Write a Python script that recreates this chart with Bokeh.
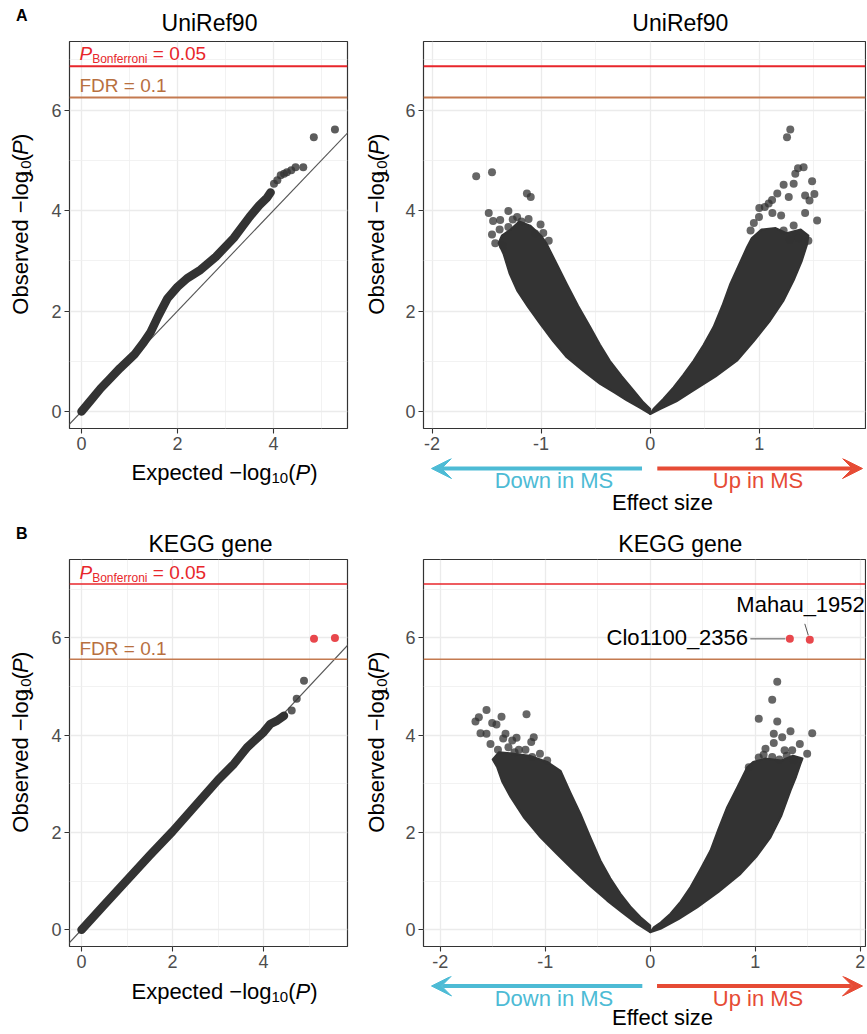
import math
from bokeh.plotting import figure
from bokeh.models import Range1d, FixedTicker, Span, Slope, Label, Arrow, VeeHead
from bokeh.layouts import column, row
from bokeh.embed import file_html
from bokeh.resources import INLINE

# ------------------------------------------------------------------ data
panel_letters = ["A", "B"]
dataset_titles = ["UniRef90", "KEGG gene"]
direction_labels = ["Down in MS", "Up in MS"]

bonferroni_a = 6.87
fdr_a = 6.25
bonferroni_b = 7.11
fdr_b = 5.56

# QQ plot A (UniRef90): dense band + sparse tail
qq_a_exp = [0.00, 0.20, 0.40, 0.60, 0.80, 1.10, 1.30, 1.44, 1.60, 1.79, 2.00, 2.20, 2.48, 2.80, 3.17, 3.50, 3.70, 3.87, 3.94]
qq_a_obs = [0.00, 0.23, 0.46, 0.66, 0.86, 1.13, 1.38, 1.58, 1.90, 2.25, 2.48, 2.65, 2.82, 3.08, 3.45, 3.87, 4.10, 4.26, 4.36]
qq_a_tail_exp = [4.01, 4.08, 4.15, 4.22, 4.28, 4.37, 4.46, 4.62, 4.84, 5.28]
qq_a_tail_obs = [4.53, 4.60, 4.70, 4.73, 4.76, 4.80, 4.86, 4.86, 5.46, 5.61]

# QQ plot B (KEGG gene)
qq_b_exp = [0.00, 0.50, 1.00, 1.50, 2.00, 2.50, 3.00, 3.35, 3.64, 4.00, 4.15, 4.30, 4.45]
qq_b_obs = [0.00, 0.51, 1.02, 1.53, 2.02, 2.55, 3.08, 3.41, 3.75, 4.06, 4.23, 4.30, 4.40]
qq_b_tail_exp = [4.62, 4.73, 4.89]
qq_b_tail_obs = [4.51, 4.75, 5.12]
qq_b_sig_exp = [5.11, 5.57]
qq_b_sig_obs = [5.98, 6.00]

# Volcano A: outlines of the dense point clouds (effect size, -log10 P)
va_left_x = [0.00, -0.10, -0.214, -0.33, -0.459, -0.61, -0.765, -0.89, -1.01, -1.12, -1.22, -1.29, -1.345, -1.39,
             -1.36, -1.28, -1.20, -1.10, -1.00, -0.95, -0.86, -0.765, -0.66, -0.55, -0.46, -0.37, -0.26, -0.153, -0.07, 0.00]
va_left_y = [-0.05, 0.08, 0.22, 0.38, 0.55, 0.80, 1.08, 1.40, 1.75, 2.08, 2.41, 2.75, 3.14, 3.35,
             3.50, 3.62, 3.78, 3.70, 3.50, 3.34, 2.95, 2.54, 2.10, 1.68, 1.33, 1.01, 0.70, 0.42, 0.20, 0.05]
va_right_x = [0.00, 0.09, 0.24, 0.397, 0.60, 0.795, 0.95, 1.10, 1.22, 1.315, 1.39, 1.44, 1.45, 1.38, 1.25, 1.15,
              1.02, 0.93, 0.887, 0.81, 0.734, 0.66, 0.58, 0.49, 0.397, 0.30, 0.214, 0.12, 0.03]
va_right_y = [-0.05, 0.05, 0.20, 0.42, 0.70, 1.01, 1.40, 1.81, 2.20, 2.61, 3.00, 3.34, 3.50, 3.62, 3.55, 3.65,
              3.62, 3.45, 3.27, 2.90, 2.54, 2.10, 1.68, 1.33, 1.01, 0.72, 0.48, 0.25, 0.05]
# Volcano A: individually visible points
va_pts_x = [-1.595, -1.45, -1.13, -1.095, -1.48, -1.30, -1.44, -1.375, -1.45, -1.005, -1.115, -1.055, -1.22, -1.30,
            -1.26, -1.18, -0.98, -1.38, -1.42, -0.93, -1.35,
            1.254, 1.284, 1.33, 1.355, 1.406, 1.223, 1.315, 1.484, 1.505, 1.42, 1.46, 1.165, 1.27, 1.117, 1.086,
            1.42, 1.53, 1.20, 1.05, 1.315, 1.337, 1.223, 0.997, 0.95, 0.92, 1.00, 1.12, 1.36, 1.45, 1.28]
va_pts_y = [4.68, 4.76, 4.34, 4.27, 3.95, 3.99, 3.79, 3.81, 3.52, 3.72, 3.83, 3.54, 3.87, 3.67,
            3.82, 3.78, 3.55, 3.62, 3.35, 3.40, 3.30,
            5.46, 5.61, 4.73, 4.84, 4.86, 4.51, 4.53, 4.58, 4.33, 4.30, 4.20, 4.34, 4.27, 4.21, 4.14,
            3.95, 3.80, 3.90, 4.07, 3.70, 3.50, 3.60, 3.87, 3.75, 3.60, 4.05, 3.95, 3.45, 3.40, 3.42]

# Volcano B
vb_left_x = [0.00, -0.124, -0.27, -0.41, -0.57, -0.728, -0.89, -1.045, -1.20, -1.33, -1.41, -1.457, -1.50, -1.44,
             -1.30, -1.15, -0.98, -0.854, -0.76, -0.664, -0.57, -0.473, -0.38, -0.283, -0.19, -0.092, 0.00]
vb_left_y = [-0.05, 0.12, 0.36, 0.60, 0.90, 1.22, 1.56, 1.90, 2.30, 2.73, 3.05, 3.34, 3.50, 3.65,
             3.62, 3.58, 3.45, 3.27, 2.82, 2.38, 1.90, 1.42, 1.06, 0.74, 0.48, 0.26, 0.09]
vb_right_x = [0.00, 0.098, 0.27, 0.447, 0.65, 0.86, 1.01, 1.146, 1.25, 1.336, 1.39, 1.431, 1.45, 1.36, 1.25, 1.10,
              0.98, 0.924, 0.83, 0.733, 0.65, 0.574, 0.48, 0.384, 0.29, 0.193, 0.10, 0.034]
vb_right_y = [-0.05, 0.02, 0.22, 0.46, 0.78, 1.15, 1.50, 1.90, 2.35, 2.86, 3.15, 3.41, 3.52, 3.58, 3.48, 3.52,
              3.45, 3.34, 2.93, 2.52, 2.07, 1.63, 1.25, 0.88, 0.58, 0.33, 0.15, 0.05]
vb_pts_x = [-1.664, -1.632, -1.559, -1.505, -1.416, -1.464, -1.178, -1.616, -1.559, -1.378, -1.273, -1.109, -1.314,
            -1.40, -1.133, -1.521, -1.188, -1.251, -1.292, -0.981, -1.124, -1.45, -1.05, -1.35,
            1.21, 1.162, 1.034, 1.21, 1.336, 1.543, 1.177, 1.257, 1.425, 1.177, 1.098, 1.352, 1.495, 1.162,
            1.034, 1.28, 1.368, 0.939, 1.08, 1.30, 1.23]
vb_pts_y = [4.28, 4.37, 4.52, 4.25, 4.38, 4.22, 4.43, 4.04, 4.03, 4.03, 3.95, 3.96, 3.89,
            3.93, 3.86, 3.82, 3.70, 3.70, 3.65, 3.48, 3.55, 3.70, 3.62, 3.75,
            5.10, 4.73, 4.34, 4.28, 4.08, 4.04, 4.03, 3.96, 3.82, 3.84, 3.72, 3.69, 3.62, 3.55,
            3.54, 3.69, 3.48, 3.34, 3.60, 3.58, 3.50]
gene_names = ["Clo1100_2356", "Mahau_1952"]
gene_effect = [1.33, 1.52]
gene_logp = [5.98, 5.96]

# ------------------------------------------------------------------ style
FONT = "Liberation Sans"
DARK = "#333333"
BONF_COL = "#E8262B"
FDR_COL = "#C47A50"
FDR_TXT = "#B8703F"
SIG_COL = "#E8474C"
CYAN = "#4DBBD5"
RED = "#E64B35"
K_MID = 0.35   # distance (in em) from the baseline up to the middle of the text box

EM = {' ': 0.278, '(': 0.333, ')': 0.333, '-': 0.333, '\u2212': 0.584, '=': 0.584, '.': 0.278, '_': 0.556,
      'A': 0.667, 'B': 0.667, 'C': 0.722, 'D': 0.722, 'E': 0.667, 'F': 0.611, 'G': 0.778, 'K': 0.667,
      'M': 0.833, 'O': 0.778, 'P': 0.667, 'R': 0.722, 'S': 0.667, 'U': 0.722,
      'a': 0.556, 'b': 0.556, 'c': 0.5, 'd': 0.556, 'e': 0.556, 'f': 0.278, 'g': 0.556, 'h': 0.556,
      'i': 0.222, 'l': 0.222, 'n': 0.556, 'o': 0.556, 'p': 0.556, 'r': 0.333, 's': 0.5, 't': 0.278,
      'u': 0.556, 'v': 0.5, 'w': 0.722, 'x': 0.5, 'z': 0.5}


def text_width(s, size):
    return sum(EM.get(ch, 0.556) for ch in s) * size


def base_fig(w, h, x_range, y_range, bl, br, bt, bb, axes=True):
    kw = dict(width=w, height=h, x_range=x_range, y_range=y_range, title=None,
              output_backend="svg", toolbar_location=None, tools="",
              min_border=0, min_border_left=bl, min_border_right=br,
              min_border_top=bt, min_border_bottom=bb)
    if not axes:
        kw.update(x_axis_type=None, y_axis_type=None)
    p = figure(**kw)
    p.background_fill_color = "white"
    p.border_fill_color = "white"
    return p


class Panel:
    """Data panel; (ox, oy) is the page position of the figure."""
    def __init__(self, ox, oy, w, h, bl, br, bt, bb, x0px, xunit, y0px, yunit):
        self.x0px, self.xunit, self.y0px, self.yunit = x0px, xunit, y0px, yunit
        fl, fr, ft, fb = ox + bl, ox + w - br, oy + bt, oy + h - bb
        self.p = base_fig(w, h, Range1d(self.dx(fl), self.dx(fr)), Range1d(self.dy(fb), self.dy(ft)),
                          bl, br, bt, bb)
        self.p.outline_line_color = DARK
        self.p.outline_line_width = 1.2

    def dx(self, px):
        return (px - self.x0px) / self.xunit

    def dy(self, py):
        return (self.y0px - py) / self.yunit

    def px(self, x):
        return self.x0px + x * self.xunit

    def py(self, y):
        return self.y0px - y * self.yunit


class Aux:
    """Text strip; coordinates are page pixels (x may share a panel's range)."""
    def __init__(self, ox, oy, w, h, share=None, bl=0, br=0):
        if share is None:
            xr = Range1d(ox, ox + w)
            self.dx = lambda px: px
        else:
            xr = share.p.x_range
            self.dx = share.dx
        self.p = base_fig(w, h, xr, Range1d(oy + h, oy), bl, br, 0, 0, axes=False)
        self.p.outline_line_color = None

    def dy(self, py):
        return py


def put(fig, text, px, py, size, style="normal", color="black", align="left", angle=0.0):
    """(px, py) = point on the baseline (start / centre / end of the text for align)."""
    w = text_width(text, size)
    off = {"left": w / 2, "center": 0.0, "right": -w / 2}[align]
    if angle == 0.0:
        cx, cy = px + off, py - K_MID * size
    else:  # rotated 90 deg counter-clockwise: reading upward, text 'up' = screen left
        cx, cy = px - K_MID * size, py - off
    fig.p.add_layout(Label(x=fig.dx(cx), y=fig.dy(cy), text=text, text_font=FONT,
                           text_font_size=f"{size}px", text_font_style=style, text_color=color,
                           text_align="center", text_baseline="middle", angle=angle))


def rich(fig, pieces, px, py, angle=0.0, align="left"):
    # pieces: (text, size, style, baseline shift in px (+ = down), color)
    total = sum(text_width(t, s) for t, s, _, _, _ in pieces)
    pos = -total / 2 if align == "center" else 0.0
    for t, s, st, sh, col in pieces:
        lead = len(t) - len(t.lstrip(' '))
        pos += lead * EM[' '] * s
        t2 = t.strip(' ')
        if angle == 0.0:
            put(fig, t2, px + pos, py + sh, s, st, col, "left")
        else:
            put(fig, t2, px + sh, py - pos, s, st, col, "left", angle)
        pos += text_width(t2, s)


def log_title(word):
    return [(word + " \u2212log", 22, "normal", 0, "black"),
            ("10", 15, "normal", 3, "black"),
            ("(", 22, "normal", 0, "black"),
            ("P", 22, "italic", 0, "black"),
            (")", 22, "normal", 0, "black")]


def style_axes(panel, xt, xminor, yt, yminor, xover=None):
    p = panel.p
    xtick = FixedTicker(ticks=xt, minor_ticks=xminor)
    ytick = FixedTicker(ticks=yt, minor_ticks=yminor)
    p.xaxis.ticker = xtick
    p.yaxis.ticker = ytick
    p.xgrid.ticker = xtick
    p.ygrid.ticker = ytick
    if xover:
        p.xaxis.major_label_overrides = xover
    for ax in p.axis:
        ax.axis_line_color = None
        ax.major_tick_line_color = DARK
        ax.major_tick_line_width = 1.1
        ax.major_tick_out = 5
        ax.major_tick_in = 0
        ax.minor_tick_out = 0
        ax.minor_tick_in = 0
        ax.minor_tick_line_color = None
        ax.major_label_text_font = FONT
        ax.major_label_text_font_size = "18px"
        ax.major_label_text_color = "#4D4D4D"
        ax.major_label_standoff = 3
    for g in (p.xgrid, p.ygrid):
        g.grid_line_color = "#EBEBEB"
        g.grid_line_width = 1.3
        g.minor_grid_line_color = "#EFEFEF"
        g.minor_grid_line_width = 0.8


def thresholds(panel, bonf, fdr, lw, with_text, bonf_base, fdr_base):
    p = panel.p
    p.add_layout(Span(location=bonf, dimension="width", line_color=BONF_COL, line_width=lw))
    p.add_layout(Span(location=fdr, dimension="width", line_color=FDR_COL, line_width=lw))
    if with_text:
        rich(panel, [("P", 19, "italic", 0, BONF_COL),
                     ("Bonferroni", 12, "normal", 3, BONF_COL),
                     (" = 0.05", 19, "normal", 0, BONF_COL)], 79, bonf_base)
        put(panel, "FDR = 0.1", 79, fdr_base, 19, "normal", FDR_TXT)


def volcano_bottom(aux, arrow_py, text_py, title_py):
    p = aux.p
    ya = arrow_py
    p.add_layout(Arrow(x_start=-0.075, y_start=ya, x_end=aux.dx(431), y_end=ya,
                       line_color=CYAN, line_width=4,
                       end=VeeHead(size=20, fill_color=CYAN, line_color=CYAN, line_width=1)))
    p.add_layout(Arrow(x_start=0.065, y_start=ya, x_end=aux.dx(862), y_end=ya,
                       line_color=RED, line_width=4,
                       end=VeeHead(size=20, fill_color=RED, line_color=RED, line_width=1)))
    put(aux, direction_labels[0], 553.5, text_py, 22, "normal", CYAN, "center")
    put(aux, direction_labels[1], 757.5, text_py, 22, "normal", RED, "center")
    put(aux, "Effect size", 662, title_py, 22, "normal", "black", "center")


VOLC_X_OVR = {-2: "-2", -1: "-1", 0: "0", 1: "1", 2: "2"}

# ================================================================== row A
qa = Panel(40, 39, 320, 419, 29, 13, 2, 30, 81, 48.0, 411, 50.25)
style_axes(qa, [0, 2, 4], [1, 3, 5], [0, 2, 4, 6], [1, 3, 5, 7])
qa.p.add_layout(Slope(gradient=1, y_intercept=0, line_color="#555555", line_width=1.1, level="underlay"))
qa.p.line(qq_a_exp, qq_a_obs, line_width=8.5, line_color=DARK, line_cap="round", line_join="round")
qa.p.scatter(qq_a_tail_exp, qq_a_tail_obs, size=8, fill_color=DARK, fill_alpha=0.8, line_color=None)
thresholds(qa, bonferroni_a, fdr_a, 2, True, 59.5, 91.7)

top_al = Aux(0, 0, 360, 39)
put(top_al, panel_letters[0], 16, 21, 16, "bold")
put(top_al, dataset_titles[0], 209, 31, 23, "normal", "black", "center")
ylab_al = Aux(0, 39, 40, 419)
rich(ylab_al, log_title("Observed"), 27.5, 234, angle=math.pi / 2, align="center")
bot_al = Aux(0, 458, 360, 62)
rich(bot_al, log_title("Expected"), 224, 480, align="center")

va = Panel(392, 39, 474, 419, 31, 1, 2, 30, 649.7, 109.1, 411, 50.25)
style_axes(va, [-2, -1, 0, 1, 2], [-1.5, -0.5, 0.5, 1.5], [0, 2, 4, 6], [1, 3, 5, 7], VOLC_X_OVR)
thresholds(va, bonferroni_a, fdr_a, 2, False, 0, 0)
va.p.patch(va_left_x, va_left_y, fill_color=DARK, line_color=DARK, line_width=2, line_join="round")
va.p.patch(va_right_x, va_right_y, fill_color=DARK, line_color=DARK, line_width=2, line_join="round")
va.p.scatter(va_pts_x, va_pts_y, size=8, fill_color=DARK, fill_alpha=0.75, line_color=None)

top_ar = Aux(360, 0, 506, 39)
put(top_ar, dataset_titles[0], 654, 31, 23, "normal", "black", "center")
ylab_ar = Aux(360, 39, 32, 419)
rich(ylab_ar, log_title("Observed"), 383.5, 234, angle=math.pi / 2, align="center")
bot_ar = Aux(360, 458, 506, 62, share=va, bl=63, br=1)
volcano_bottom(bot_ar, 468, 488, 509.5)

# ================================================================== row B
qb = Panel(40, 557, 320, 419, 29, 13, 2, 30, 81, 45.5, 929.3, 48.65)
style_axes(qb, [0, 2, 4], [1, 3, 5], [0, 2, 4, 6], [1, 3, 5, 7])
qb.p.add_layout(Slope(gradient=1, y_intercept=0, line_color="#555555", line_width=1.1, level="underlay"))
qb.p.line(qq_b_exp, qq_b_obs, line_width=8.5, line_color=DARK, line_cap="round", line_join="round")
qb.p.scatter(qq_b_tail_exp, qq_b_tail_obs, size=8, fill_color=DARK, fill_alpha=0.8, line_color=None)
qb.p.scatter(qq_b_sig_exp, qq_b_sig_obs, size=8, fill_color=SIG_COL, line_color=None)
thresholds(qb, bonferroni_b, fdr_b, 1.5, True, 579, 655)

top_bl = Aux(0, 520, 360, 37)
put(top_bl, panel_letters[1], 16, 538.3, 16, "bold")
put(top_bl, dataset_titles[1], 210, 552, 23, "normal", "black", "center")
ylab_bl = Aux(0, 557, 40, 419)
rich(ylab_bl, log_title("Observed"), 27.5, 752, angle=math.pi / 2, align="center")
bot_bl = Aux(0, 976, 360, 56)
rich(bot_bl, log_title("Expected"), 224, 999, align="center")

vb = Panel(392, 557, 474, 419, 31, 1, 2, 30, 649.7, 105.0, 929.3, 48.65)
style_axes(vb, [-2, -1, 0, 1, 2], [-1.5, -0.5, 0.5, 1.5], [0, 2, 4, 6], [1, 3, 5, 7], VOLC_X_OVR)
thresholds(vb, bonferroni_b, fdr_b, 1.5, False, 0, 0)
vb.p.patch(vb_left_x, vb_left_y, fill_color=DARK, line_color=DARK, line_width=2, line_join="round")
vb.p.patch(vb_right_x, vb_right_y, fill_color=DARK, line_color=DARK, line_width=2, line_join="round")
vb.p.scatter(vb_pts_x, vb_pts_y, size=8, fill_color=DARK, fill_alpha=0.75, line_color=None)
vb.p.scatter(gene_effect, gene_logp, size=8, fill_color=SIG_COL, line_color=None)
# gene labels (ggrepel-style offsets in pixels from each point) with connector segments
label_offsets = [(-41, 6.7), (55, -27.6)]
seg_offsets = [((-39.5, 0), (-4.5, 0)), ((-5, -16), (-1.5, -4.5))]
sx0, sy0, sx1, sy1 = [], [], [], []
for name, ex, ly, (ox, oy), ((a, b), (c, d)) in zip(gene_names, gene_effect, gene_logp, label_offsets, seg_offsets):
    ppx, ppy = vb.px(ex), vb.py(ly)
    put(vb, name, ppx + ox, ppy + oy, 22, "normal", "black", "right")
    sx0.append(vb.dx(ppx + a)); sy0.append(vb.dy(ppy + b))
    sx1.append(vb.dx(ppx + c)); sy1.append(vb.dy(ppy + d))
vb.p.segment(sx0, sy0, sx1, sy1, line_color="#555555", line_width=1)

top_br = Aux(360, 520, 506, 37)
put(top_br, dataset_titles[1], 654, 552, 23, "normal", "black", "center")
ylab_br = Aux(360, 557, 32, 419)
rich(ylab_br, log_title("Observed"), 383.5, 752, angle=math.pi / 2, align="center")
bot_br = Aux(360, 976, 506, 56, share=vb, bl=63, br=1)
volcano_bottom(bot_br, 985.5, 1005.5, 1025)

# ================================================================== layout
block_al = column(top_al.p, row(ylab_al.p, qa.p), bot_al.p)
block_ar = column(top_ar.p, row(ylab_ar.p, va.p), bot_ar.p)
block_bl = column(top_bl.p, row(ylab_bl.p, qb.p), bot_bl.p)
block_br = column(top_br.p, row(ylab_br.p, vb.p), bot_br.p)
layout = column(row(block_al, block_ar), row(block_bl, block_br))
open("out.html", "w").write(file_html(layout, INLINE))
